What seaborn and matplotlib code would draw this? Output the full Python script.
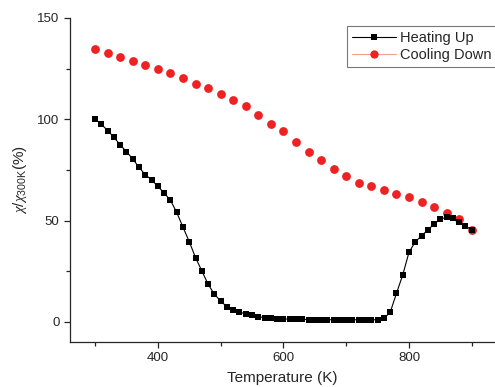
import numpy as np
import pandas as pd
import matplotlib
matplotlib.use("Agg")
import matplotlib.pyplot as plt
from matplotlib.lines import Line2D
from matplotlib.ticker import MultipleLocator
import seaborn as sns

heat_T = list(range(300, 901, 10))
heat_v = [100.2, 97.5, 94.4, 91.1, 87.3, 84.0, 80.4, 76.2, 72.6, 70.1,
          66.8, 63.6, 60.0, 54.0, 46.7, 39.5, 31.7, 25.1, 18.5, 13.6,
          10.2, 7.4, 5.8, 4.8, 3.8, 3.3, 2.5, 2.0, 1.7, 1.5,
          1.4, 1.3, 1.2, 1.2, 1.1, 1.1, 1.0, 1.0, 1.0, 1.0,
          1.0, 1.0, 1.0, 1.0, 1.0, 1.0, 1.7, 4.6, 14.0, 23.1,
          34.3, 39.5, 42.4, 45.4, 48.2, 50.8, 51.5, 51.2, 49.5, 47.4,
          45.2]
cool_T = list(range(300, 901, 20))
cool_v = [134.5, 132.5, 130.7, 128.7, 126.9, 124.9, 123.0, 120.6, 117.3, 115.3,
          112.6, 109.6, 106.4, 102.3, 97.5, 94.0, 88.6, 84.0, 79.7, 75.4,
          71.8, 68.6, 66.8, 64.9, 63.1, 61.4, 59.3, 56.6, 53.5, 50.7, 45.2]

heat = pd.DataFrame({"T": heat_T, "v": heat_v})
cool = pd.DataFrame({"T": cool_T, "v": cool_v})

sns.set_style("ticks")
plt.rcParams['font.family'] = ['Liberation Sans', 'DejaVu Sans']
plt.rcParams['mathtext.fontset'] = 'custom'
plt.rcParams['mathtext.it'] = 'Liberation Serif:italic'
plt.rcParams['mathtext.rm'] = 'Liberation Sans'

fig = plt.figure(figsize=(4.95, 3.87), dpi=100)
ax = fig.add_axes([70/495, 45/387, 425/495, 324/387])

sns.lineplot(data=heat, x="T", y="v", ax=ax, color="black", lw=0.8,
             marker="s", markersize=5, markeredgewidth=0, zorder=3)
sns.scatterplot(data=cool, x="T", y="v", ax=ax, color="#ee2222", s=40,
                linewidth=0, zorder=2)

ax.set_xlim(260, 937)
ax.set_ylim(-10, 150)
ax.xaxis.set_major_locator(MultipleLocator(200))
ax.xaxis.set_minor_locator(MultipleLocator(100))
ax.yaxis.set_major_locator(MultipleLocator(50))
ax.yaxis.set_minor_locator(MultipleLocator(25))
ax.tick_params(which='both', direction='out', labelsize=9.5, width=0.9)
ax.tick_params(which='major', length=4)
ax.tick_params(which='minor', length=3)
for s in ['top', 'right']:
    ax.spines[s].set_visible(False)
for s in ['left', 'bottom']:
    ax.spines[s].set_linewidth(0.9)

ax.set_xlabel("Temperature (K)", fontsize=11, labelpad=5)
ax.set_ylabel(r"$\chi/\chi_{\mathrm{300K}}$(%)", fontsize=11, labelpad=6)

handles = [Line2D([], [], color='black', lw=0.8, marker='s', markersize=5, markeredgewidth=0),
           Line2D([], [], color='#f4a090', lw=0.8, marker='o', markersize=6,
                  markerfacecolor='#ee2222', markeredgewidth=0)]
leg = ax.legend(handles, ["Heating Up", "Cooling Down"], loc='upper left',
                bbox_to_anchor=(277/425, 1 - 8/324), frameon=True, fancybox=False,
                edgecolor='#555555', fontsize=10.5, handlelength=3.0,
                borderpad=0.35, labelspacing=0.2, handletextpad=0.3, borderaxespad=0)
leg.get_frame().set_linewidth(0.8)

fig.savefig("out.png", dpi=100)
